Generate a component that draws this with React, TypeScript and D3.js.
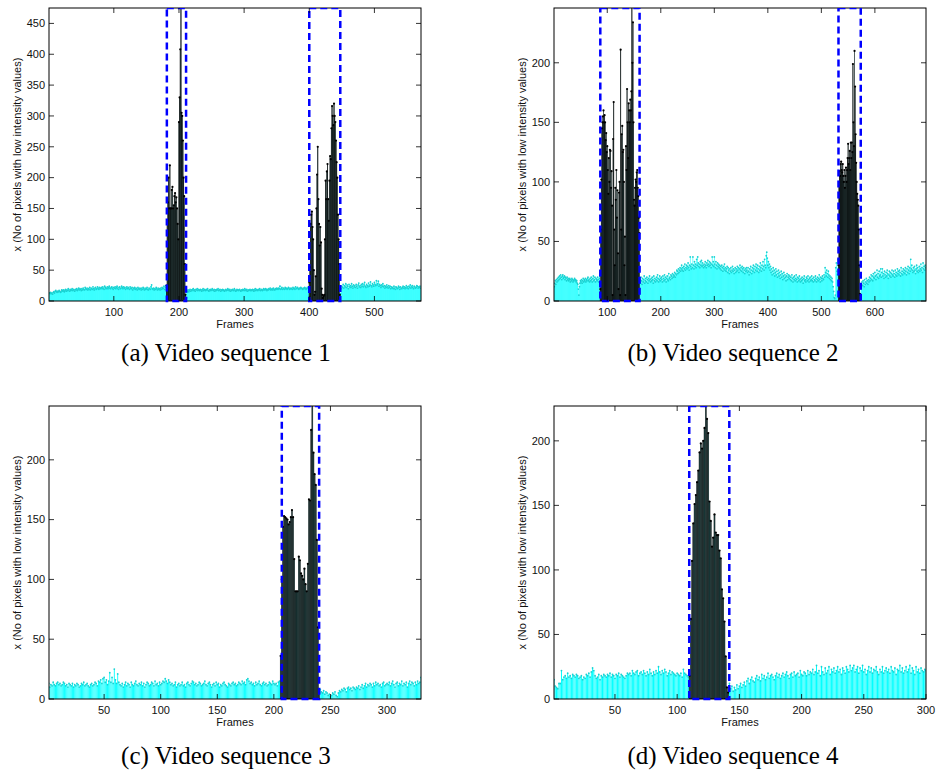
import React, { useEffect, useRef } from 'react';
import * as d3 from 'd3';

// ---- Video sequence 1 (frames 1..571) ----
const seq1Pre = [
  13,12,14,12,13,11,14,15,13,16,17,15,14,16,15,17,16,14,15,18,
  17,16,18,15,17,19,16,18,17,20,18,16,19,17,18,20,17,19,18,16,
  19,18,20,17,19,21,18,20,19,17,20,18,21,19,18,22,20,19,21,18,
  20,19,22,18,21,20,19,23,20,18,21,22,19,20,23,21,19,22,20,21,
  22,20,23,21,19,24,22,20,21,23,20,22,24,21,20,22,23,21,19,22,
  21,23,20,22,24,21,19,22,23,20,21,24,22,20,23,21,22,19,21,23,
  20,22,21,19,23,21,20,22,18,21,20,22,19,21,20,18,22,20,19,21,
  20,18,21,19,22,20,18,21,19,20,22,19,18,21,20,19,23,26,20,19,
  21,18,20,19,22,20,18,21,19,20,18,21,19,22,20,21,24,19,22,25,
];
const seq1Event1 = [
  25,130,160,200,150,220,150,150,180,185,150,155,170,175,160,168,150,125,100,290,
  330,408,490,305,300,260,200,170,60,10,5,
];
const seq1Mid = [
  14,16,18,15,17,19,16,18,17,19,20,17,18,16,19,18,20,17,19,18,
  17,19,18,16,18,20,17,19,18,17,19,18,20,17,16,18,19,17,18,20,
  18,17,19,16,18,17,19,18,20,17,18,19,16,18,17,19,18,17,16,18,
  19,17,18,20,18,17,19,16,18,17,19,18,17,20,18,16,17,19,18,17,
  18,19,17,16,18,17,19,18,17,20,18,17,19,16,18,17,18,19,17,18,
  17,19,18,16,18,20,17,19,18,17,19,18,20,17,18,19,17,18,20,19,
  18,20,19,17,19,18,20,19,21,18,19,20,18,21,19,18,20,19,21,20,
  19,21,20,24,19,20,22,19,21,20,19,22,20,21,19,20,22,21,19,20,
  21,20,19,22,20,21,19,23,20,21,22,20,19,21,20,22,21,20,19,21,
  20,22,21,19,20,22,21,23,
];
const seq1Event2 = [
  30,55,125,140,145,120,100,50,10,15,40,150,205,250,165,125,90,120,95,20,
  10,5,8,10,100,195,165,210,222,165,130,195,235,230,280,316,300,285,320,300,
  290,260,225,200,140,100,60,10,
];
const seq1Post = [
  12,20,24,22,27,21,25,23,28,22,26,24,20,27,23,25,22,28,24,21,
  26,23,25,22,27,24,21,26,29,23,25,22,27,24,28,23,26,30,24,22,
  27,25,23,29,24,26,31,25,23,28,26,24,30,27,25,33,26,28,32,24,
  27,25,22,26,24,28,23,25,21,24,22,26,23,21,25,22,24,20,23,21,
  22,20,24,21,19,23,22,20,21,24,22,19,23,21,20,22,24,21,23,20,
  22,25,21,23,20,24,22,26,21,23,25,22,20,24,23,21,22,25,24,21,
  23,22,24,21,
];
const seq1Boxes = [[181.4, 210.9], [400, 447.6]];

// ---- Video sequence 2 (frames 1..695) ----
const seq2Pre = [
  12,15,17,14,18,16,19,17,20,18,21,19,22,20,18,21,22,19,20,21,
  18,20,19,17,20,18,19,17,18,19,16,18,17,19,18,16,17,18,19,17,
  18,16,17,15,14,10,5,12,15,17,16,18,15,17,19,16,18,17,19,16,
  18,17,19,20,17,18,16,19,17,20,18,16,19,21,17,18,20,16,19,18,
  17,20,18,16,19,21,
];
const seq2Event1 = [
  10,60,102,145,150,155,160,150,156,150,135,141,125,130,110,90,120,100,127,126,
  95,109,80,5,136,167,60,30,95,85,110,70,93,40,10,91,100,5,211,60,
  140,147,125,127,100,30,54,5,130,110,178,150,120,166,160,150,169,160,176,247,
  200,234,150,85,80,95,102,100,108,110,95,88,70,57,
];
const seq2Mid = [
  18,15,20,17,14,19,16,18,21,15,17,19,16,20,18,15,19,17,21,18,
  16,19,17,20,18,15,21,17,19,16,18,20,17,22,19,16,18,21,17,19,
  20,18,16,21,19,17,22,18,20,16,19,21,18,17,23,19,20,18,22,21,
  19,23,20,22,21,24,20,23,22,26,25,23,27,24,26,28,25,27,30,26,
  28,25,29,27,31,26,28,30,27,29,32,28,26,30,37,29,27,31,28,37,
  30,27,33,29,31,28,35,30,37,32,29,31,28,33,30,34,29,32,30,28,
  31,29,33,30,28,32,30,34,31,29,33,30,32,28,31,37,30,33,29,37,
  31,28,33,30,27,32,29,31,28,30,27,29,26,30,28,25,29,27,31,26,
  28,25,27,29,24,28,26,23,27,25,28,24,26,29,25,27,23,26,28,24,
  27,25,29,26,28,24,27,30,26,28,25,29,27,24,28,26,23,27,25,28,
  26,24,28,25,22,27,24,29,26,23,28,25,30,27,24,29,26,31,28,25,
  30,27,24,29,26,32,28,25,30,27,33,29,26,35,30,28,38,41,36,30,
  33,28,31,26,29,24,27,22,25,28,23,26,21,24,27,22,25,20,23,26,
  21,24,19,22,25,20,23,18,21,24,19,22,20,17,21,23,18,20,22,19,
  21,18,20,17,22,19,16,20,18,21,17,19,22,18,16,20,19,17,21,18,
  16,19,17,20,18,15,19,21,17,18,16,20,19,17,21,18,16,19,20,17,
  18,21,17,19,16,20,18,17,21,19,16,18,20,17,19,22,18,16,20,19,
  17,21,19,18,22,20,28,24,21,26,23,20,25,22,19,21,18,20,17,19,
  16,12,8,3,2,5,28,32,25,22,35,
];
const seq2Event2 = [
  30,100,109,105,115,117,110,108,115,105,100,110,95,105,112,100,110,120,132,115,
  120,126,110,133,120,133,125,199,150,130,210,180,140,116,100,90,85,80,60,30,
  6,5,
];
const seq2Post = [
  10,14,16,13,17,15,12,18,14,16,19,15,17,14,18,16,20,17,19,22,
  18,21,17,23,20,19,24,21,18,22,26,20,23,19,25,21,22,27,20,24,
  27,21,23,19,25,22,20,24,21,26,23,19,22,25,21,24,20,23,26,22,
  21,25,23,20,26,22,24,21,27,23,25,22,26,24,21,28,23,25,22,27,
  24,26,23,28,25,22,27,24,29,26,23,28,25,35,27,30,26,24,28,25,
  29,26,23,27,30,25,28,24,26,29,25,27,31,26,28,24,32,27,29,26,
  30,28,
];
const seq2Boxes = [[87, 160.4], [532, 573.6]];

// ---- Video sequence 3 (frames 1..330) ----
const seq3Pre = [
  13,10,12,11,14,12,11,13,14,12,13,11,12,14,13,11,12,10,13,12,
  11,13,10,12,11,13,12,10,11,13,12,14,11,12,13,11,10,12,13,11,
  12,14,13,11,15,14,16,13,17,18,14,16,12,15,22,14,18,13,25,16,
  13,21,14,12,11,13,10,12,14,11,13,12,10,14,12,11,13,15,12,11,
  13,12,14,11,13,10,12,14,13,11,12,14,13,11,15,12,13,11,14,12,
  13,15,14,17,15,13,16,14,12,13,11,12,14,10,12,13,11,12,14,11,
  12,10,13,14,12,11,13,15,14,12,13,11,12,14,13,11,12,13,15,12,
  11,13,14,12,10,12,13,11,14,12,13,10,12,11,13,14,12,11,10,13,
  12,11,13,14,12,13,11,12,14,13,12,15,13,14,12,16,17,15,13,14,
  12,13,11,14,12,13,15,12,11,13,14,12,13,11,12,14,13,12,15,13,
  12,13,11,14,15,
];
const seq3Event = [
  36,100,144,153,152,151,150,146,148,152,158,152,117,90,90,90,119,116,105,103,
  100,109,96,90,113,167,166,225,250,206,188,179,133,60,5,
];
const seq3Post = [
  8,6,5,7,4,6,5,3,4,2,3,5,4,6,3,2,5,7,6,8,
  7,9,8,6,9,10,8,9,7,10,9,8,10,9,11,8,10,12,9,11,
  13,10,12,11,13,12,10,13,11,14,12,13,11,12,10,13,14,11,12,13,
  12,14,11,13,15,12,10,13,14,11,13,12,15,11,13,12,14,10,13,15,
  12,14,13,11,14,12,15,13,14,18,
];
const seq3Boxes = [[207, 240]];

// ---- Video sequence 4 (frames 1..300) ----
const seq4Pre = [
  15,10,9,8,12,12,22,15,17,18,16,20,17,18,16,19,18,17,19,18,
  16,17,18,15,17,16,19,18,20,17,21,24,22,18,16,17,19,15,18,17,
  19,18,17,19,18,20,17,19,18,16,19,18,20,17,19,18,17,16,18,20,
  19,20,18,22,20,19,21,22,18,20,21,19,22,20,18,21,19,23,20,18,
  21,19,22,20,25,21,19,22,20,23,21,18,20,22,19,21,20,19,18,20,
  19,18,20,17,23,20,19,18,17,
];
const seq4Event = [
  18,62,107,136,151,158,168,177,191,198,194,200,210,230,217,206,153,138,118,125,
  143,129,127,127,115,109,85,78,60,33,9,5,
];
const seq4Post = [
  12,8,10,6,9,7,11,8,10,12,9,11,13,10,14,16,12,15,17,14,
  13,16,18,15,17,14,19,16,18,15,17,20,16,18,19,17,15,18,20,17,
  19,16,18,20,17,19,21,18,16,19,20,17,21,18,19,20,17,22,19,18,
  21,20,18,22,19,21,20,23,19,21,26,20,22,18,25,21,19,24,20,22,
  25,19,23,21,24,20,22,25,21,23,19,24,22,20,25,23,21,26,22,24,
  26,21,23,25,20,24,22,26,21,23,19,22,25,21,24,20,23,22,25,21,
  19,23,21,25,20,22,24,21,23,20,25,22,21,24,19,23,22,26,21,24,
  20,22,25,21,23,26,20,24,22,19,25,21,23,20,24,22,21,23,22,
];
const seq4Boxes = [[109.7, 141.9]];

const yLabel = 'x (No of pixels with low intensity values)';

type Seg = { values: number[]; dark: boolean };

const panels = [
  {
    id: 'a', left: 49, right: 421, top: 8, bottom: 301,
    xDomain: [0.5, 571.5], yMax: 475,
    xTicks: [100, 200, 300, 400, 500], yTicks: d3.range(0, 451, 50),
    segs: [
      { values: seq1Pre, dark: false }, { values: seq1Event1, dark: true },
      { values: seq1Mid, dark: false }, { values: seq1Event2, dark: true },
      { values: seq1Post, dark: false },
    ] as Seg[],
    boxes: seq1Boxes, bgWidth: 1, caption: '(a) Video sequence 1', capX: 226, capY: 361, labX: 17,
  },
  {
    id: 'b', left: 554, right: 926, top: 8, bottom: 301,
    xDomain: [0.5, 695.5], yMax: 246,
    xTicks: [100, 200, 300, 400, 500, 600], yTicks: d3.range(0, 201, 50),
    segs: [
      { values: seq2Pre, dark: false }, { values: seq2Event1, dark: true },
      { values: seq2Mid, dark: false }, { values: seq2Event2, dark: true },
      { values: seq2Post, dark: false },
    ] as Seg[],
    boxes: seq2Boxes, bgWidth: 1, caption: '(b) Video sequence 2', capX: 733, capY: 361, labX: 522,
  },
  {
    id: 'c', left: 49, right: 421, top: 406, bottom: 699,
    xDomain: [1.3, 330], yMax: 245,
    xTicks: [50, 100, 150, 200, 250, 300], yTicks: d3.range(0, 201, 50),
    segs: [
      { values: seq3Pre, dark: false }, { values: seq3Event, dark: true },
      { values: seq3Post, dark: false },
    ] as Seg[],
    boxes: seq3Boxes, bgWidth: 0.8, caption: '(c) Video sequence 3', capX: 226, capY: 764, labX: 17,
  },
  {
    id: 'd', left: 554, right: 926, top: 406, bottom: 699,
    xDomain: [1, 300], yMax: 227,
    xTicks: [50, 100, 150, 200, 250, 300], yTicks: d3.range(0, 201, 50),
    segs: [
      { values: seq4Pre, dark: false }, { values: seq4Event, dark: true },
      { values: seq4Post, dark: false },
    ] as Seg[],
    boxes: seq4Boxes, bgWidth: 0.8, caption: '(d) Video sequence 4', capX: 733, capY: 764, labX: 522,
  },
];

const sans = '"Liberation Sans", Arial, Helvetica, sans-serif';

const App = () => {
  const svgRef = useRef<SVGSVGElement>(null);

  useEffect(() => {
    if (!svgRef.current) return;
    const svg = d3.select(svgRef.current);
    svg.selectAll('*').remove();

    panels.forEach((p) => {
      const x = d3.scaleLinear().domain(p.xDomain).range([p.left, p.right]);
      const y = d3.scaleLinear().domain([0, p.yMax]).range([p.bottom, p.top]);
      const step = x(2) - x(1);

      // frame rows
      const rows: { frame: number; value: number; dark: boolean }[] = [];
      let frame = 1;
      p.segs.forEach((s) => {
        s.values.forEach((v) => {
          rows.push({ frame, value: v, dark: s.dark });
          frame++;
        });
      });
      const bg = rows.filter((r) => !r.dark);
      const fg = rows.filter((r) => r.dark);

      const clipId = `clip-${p.id}`;
      svg.append('clipPath').attr('id', clipId)
        .append('rect')
        .attr('x', p.left).attr('y', p.top)
        .attr('width', p.right - p.left).attr('height', p.bottom - p.top);
      const boxClipId = `boxclip-${p.id}`;
      svg.append('clipPath').attr('id', boxClipId)
        .append('rect')
        .attr('x', p.left - 5).attr('y', p.top)
        .attr('width', p.right - p.left + 10).attr('height', p.bottom - p.top + 5);

      const g = svg.append('g').attr('clip-path', `url(#${clipId})`);

      // cyan bars
      g.append('g').selectAll('rect').data(bg).join('rect')
        .attr('x', (d) => x(d.frame) - (step * p.bgWidth) / 2)
        .attr('width', step * p.bgWidth)
        .attr('y', (d) => y(d.value))
        .attr('height', (d) => y(0) - y(d.value))
        .attr('fill', '#00ffff');
      g.append('g').selectAll('circle').data(bg).join('circle')
        .attr('cx', (d) => x(d.frame))
        .attr('cy', (d) => y(d.value))
        .attr('r', 0.9)
        .attr('fill', '#19d2d2');

      // dark bars
      g.append('g').selectAll('rect').data(fg).join('rect')
        .attr('x', (d) => x(d.frame) - (step * 0.85) / 2)
        .attr('width', step * 0.85)
        .attr('y', (d) => y(d.value))
        .attr('height', (d) => y(0) - y(d.value))
        .attr('fill', '#235252')
        .attr('stroke', '#000')
        .attr('stroke-width', 0.45);
      g.append('g').selectAll('circle').data(fg).join('circle')
        .attr('cx', (d) => x(d.frame))
        .attr('cy', (d) => y(d.value))
        .attr('r', 1.1)
        .attr('fill', '#000');

      // axes box
      svg.append('rect')
        .attr('x', p.left).attr('y', p.top)
        .attr('width', p.right - p.left).attr('height', p.bottom - p.top)
        .attr('fill', 'none').attr('stroke', '#000').attr('stroke-width', 1);

      // detection boxes
      svg.append('g').attr('clip-path', `url(#${boxClipId})`)
        .selectAll('rect').data(p.boxes).join('rect')
        .attr('x', (d) => x(d[0]))
        .attr('width', (d) => x(d[1]) - x(d[0]))
        .attr('y', p.top)
        .attr('height', y(0) - p.top)
        .attr('fill', 'none')
        .attr('stroke', '#0000ff')
        .attr('stroke-width', 2.5)
        .attr('stroke-dasharray', '7,4');

      // ticks
      const tk = svg.append('g').attr('stroke', '#000').attr('stroke-width', 0.8);
      p.xTicks.forEach((t) => {
        tk.append('line').attr('x1', x(t)).attr('x2', x(t)).attr('y1', p.bottom).attr('y2', p.bottom - 5);
        tk.append('line').attr('x1', x(t)).attr('x2', x(t)).attr('y1', p.top).attr('y2', p.top + 5);
      });
      p.yTicks.forEach((t) => {
        tk.append('line').attr('x1', p.left).attr('x2', p.left + 5).attr('y1', y(t)).attr('y2', y(t));
        tk.append('line').attr('x1', p.right).attr('x2', p.right - 5).attr('y1', y(t)).attr('y2', y(t));
      });

      const lab = svg.append('g').attr('font-family', sans).attr('font-size', 11).attr('fill', '#111');
      p.xTicks.forEach((t) => {
        lab.append('text').attr('x', x(t)).attr('y', p.bottom + 15)
          .attr('text-anchor', 'middle').text(t);
      });
      p.yTicks.forEach((t) => {
        lab.append('text').attr('x', p.left - 4).attr('y', y(t)).attr('dy', '0.35em')
          .attr('text-anchor', 'end').text(t);
      });
      lab.append('text').attr('x', (p.left + p.right) / 2).attr('y', p.bottom + 27)
        .attr('text-anchor', 'middle').text('Frames');
      lab.append('text')
        .attr('transform', `translate(${p.labX},${(p.top + p.bottom) / 2}) rotate(-90)`)
        .attr('dy', '0.35em')
        .attr('text-anchor', 'middle').text(yLabel);

      svg.append('text')
        .attr('x', p.capX).attr('y', p.capY)
        .attr('text-anchor', 'middle')
        .attr('font-family', '"Liberation Serif", "Times New Roman", serif')
        .attr('font-size', 25)
        .attr('fill', '#000')
        .text(p.caption);
    });
  }, []);

  return (
    <svg
      ref={svgRef}
      width={937}
      height={778}
      style={{ position: 'absolute', left: 0, top: 0, background: '#fff' }}
    />
  );
};

export default App;
